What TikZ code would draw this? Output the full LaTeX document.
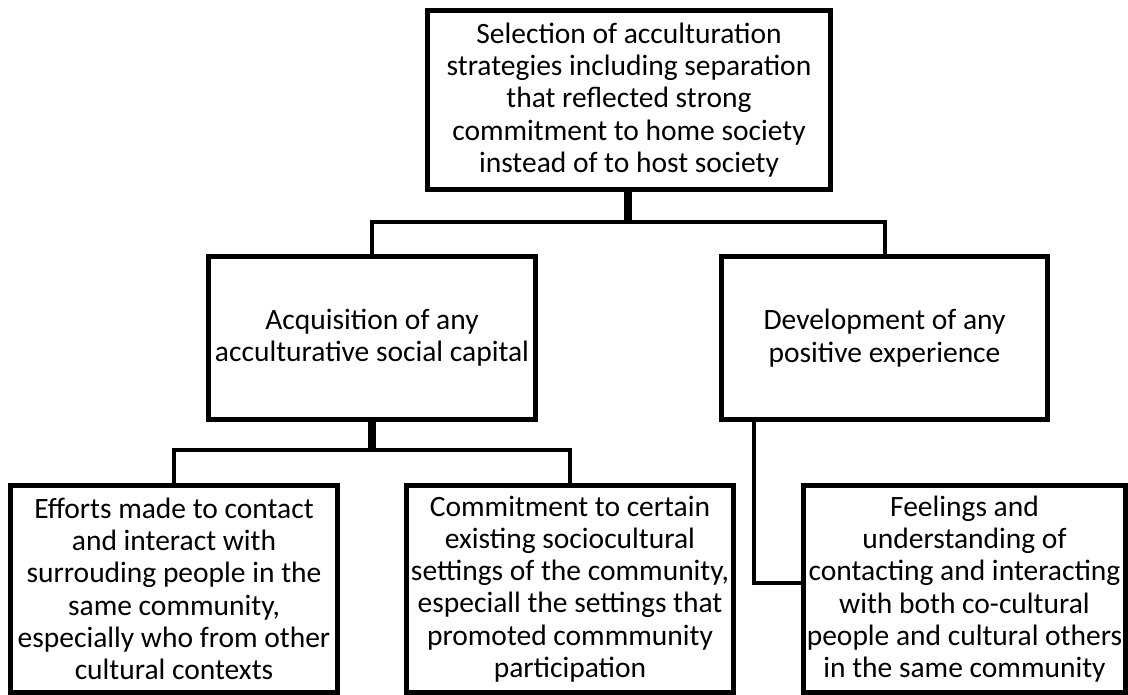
\documentclass[tikz,border=0pt]{standalone}
\usepackage{fontspec}
\setmainfont{Carlito}
\usetikzlibrary{positioning}

\begin{document}
\begin{tikzpicture}[x=1pt,y=-1pt,line cap=butt,line join=miter,
		box/.style={draw,line width=5pt,align=center,inner xsep=-6pt,inner ysep=0pt,
			font=\fontsize{29.5}{32.3}\selectfont},
		link/.style={line width=4pt},
		stem/.style={line width=7.5pt}]
		\useasboundingbox (0,0) rectangle (1128,695);
		% top level
		\node[box,minimum width=403pt,minimum height=179pt] (sel) at (629,100) {Selection of acculturation\\strategies including separation\\that reflected strong\\commitment to home society\\instead of to host society};
		% second level
		\node[box,minimum width=327pt,minimum height=163pt] (acq) at (372,338) {Acquisition of any\\acculturative social capital};
		\node[box,minimum width=326pt,minimum height=163pt] (dev) at (884.5,338) {Development of any\\positive experience};
		% third level
		\node[box,minimum width=327pt,minimum height=207pt] (eff) at (174,589) {Efforts made to contact\\and interact with\\surrouding people in the\\same community,\\especially who from other\\cultural contexts};
		\node[box,minimum width=327pt,minimum height=207pt] (com) at (570,589) {Commitment to certain\\existing sociocultural\\settings of the community,\\especiall the settings that\\promoted commmunity\\participation};
		\node[box,minimum width=322pt,minimum height=207pt] (feel) at (964.5,589) {Feelings and\\understanding of\\contacting and interacting\\with both co-cultural\\people and cultural others\\in the same community};
		% bus lines
		\coordinate (busA) at (628,222);
		\coordinate (busB) at (372,450);
		\draw[stem] (sel.south -| busA) -- (busA);
		\draw[link] (acq.north) |- (busA) -| (dev.north);
		\draw[stem] (acq.south) -- (busB);
		\draw[link] (eff.north) |- (busB) -| (com.north);
		\draw[link] ([xshift=35pt]dev.south west) |- ([yshift=6pt]feel.west);
	\end{tikzpicture}
\end{document}
